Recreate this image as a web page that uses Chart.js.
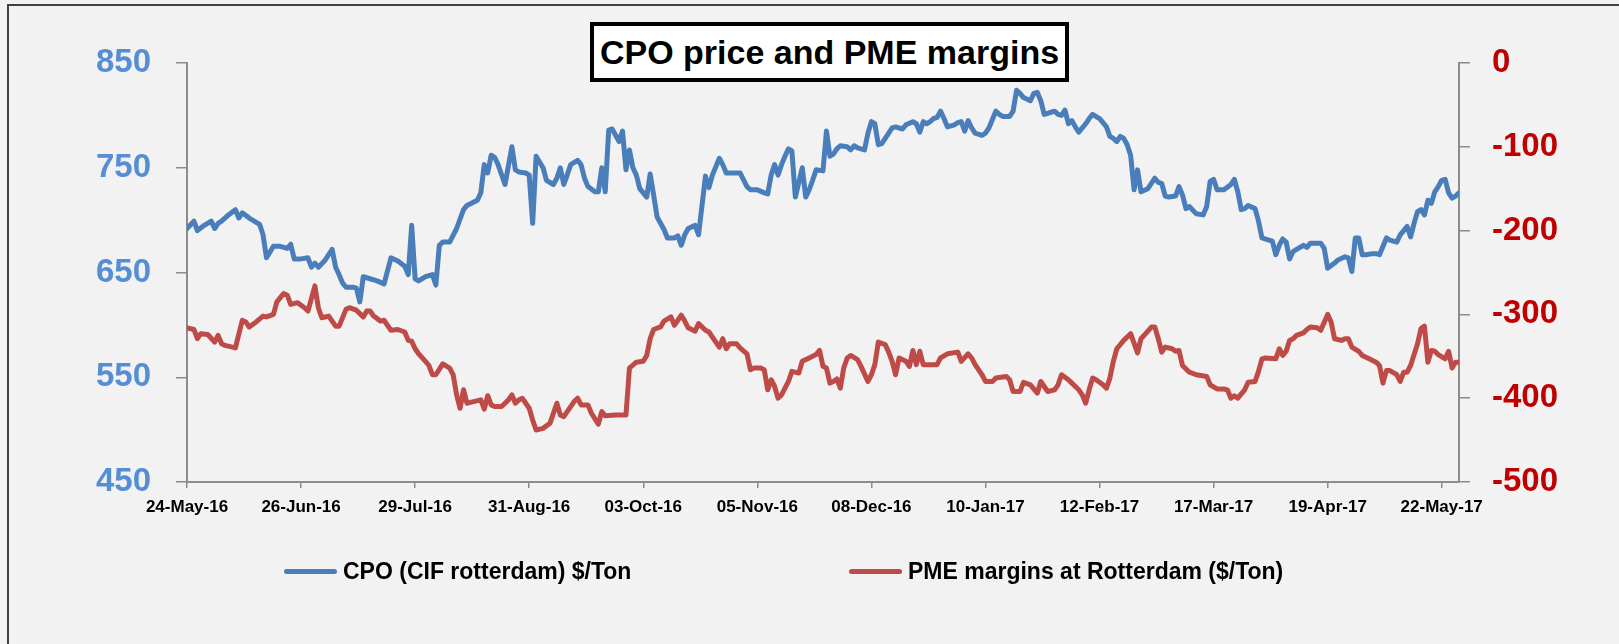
<!DOCTYPE html>
<html>
<head>
<meta charset="utf-8">
<title>CPO price and PME margins</title>
<script src="https://cdn.jsdelivr.net/npm/chart.js@4.4.1/dist/chart.umd.min.js"></script>
<style>
  html, body { margin: 0; padding: 0; background: #f2f2f2; overflow: hidden; }
  #wrap { position: relative; width: 1619px; height: 644px; font-family: 'Liberation Sans', Arial, sans-serif; }
  #frame { position: absolute; left: 7px; top: 4px; width: 1700px; height: 700px;
           border-left: 2px solid #404040; border-top: 2px solid #404040; }
  #chart { position: absolute; left: 0; top: 0; }
  #title { position: absolute; left: 590px; top: 22px; width: 479px; height: 60px; box-sizing: border-box;
           border: 4px solid #000; background: #fff; display: flex; align-items: center; justify-content: center;
           font-weight: bold; font-size: 34px; color: #000; white-space: nowrap; }
  .legend-item { position: absolute; top: 557px; height: 28px; line-height: 28px; display: flex; align-items: center;
                 font-weight: bold; font-size: 23px; color: #000; white-space: nowrap; }
  .legend-item .swatch { width: 53px; height: 5px; border-radius: 3px; margin-right: 6px; }
</style>
</head>
<body>
<div id="wrap">
  <div id="frame"></div>
  <canvas id="chart" width="1619" height="644"></canvas>
  <div id="title">CPO price and PME margins</div>
  <div class="legend-item" style="left:284px"><span class="swatch" style="background:#4a7ebb"></span>CPO (CIF rotterdam) $/Ton</div>
  <div class="legend-item" style="left:849px"><span class="swatch" style="background:#be4b48"></span>PME margins at Rotterdam ($/Ton)</div>
</div>
<script>
// x values are days since 24-May-16
const xTickDay = [0, 33, 66, 99, 132, 165, 198, 231, 264, 297, 330, 363];
const xTickLabel = ['24-May-16', '26-Jun-16', '29-Jul-16', '31-Aug-16', '03-Oct-16', '05-Nov-16',
  '08-Dec-16', '10-Jan-17', '12-Feb-17', '17-Mar-17', '19-Apr-17', '22-May-17'];

// CPO (CIF rotterdam) $/Ton
const cpoDay = [
  0, 2, 3, 5, 7, 8, 9, 10, 12, 14,
  15, 16, 18, 21, 22, 23, 25, 27, 29, 30,
  31, 33, 35, 36, 37, 38, 40, 42, 43, 44,
  45, 46, 48, 49, 50, 51, 52, 55, 57, 59,
  61, 63, 64, 65, 66, 67, 69, 71, 72, 73,
  74, 76, 78, 80, 81, 84, 85, 86, 87, 88,
  89, 90, 92, 94, 95, 96, 98, 99, 100, 101,
  103, 104, 106, 107, 108, 109, 110, 111, 113, 114,
  115, 116, 118, 119, 120, 121, 122, 123, 124, 125,
  126, 127, 128, 129, 130, 131, 133, 134, 135, 136,
  138, 139, 141, 142, 143, 144, 145, 147, 148, 150,
  151, 152, 154, 155, 156, 158, 160, 162, 163, 165,
  167, 168, 169, 170, 171, 172, 173, 174, 175, 176,
  178, 179, 180, 181, 182, 184, 185, 186, 187, 188,
  189, 191, 192, 193, 194, 196, 197, 198, 199, 200,
  201, 202, 204, 205, 207, 208, 210, 211, 212, 213,
  214, 215, 216, 217, 218, 219, 220, 222, 223, 224,
  225, 226, 227, 228, 230, 231, 232, 234, 235, 236,
  238, 239, 240, 241, 242, 244, 245, 246, 247, 248,
  250, 251, 252, 253, 254, 255, 256, 257, 258, 260,
  261, 262, 264, 265, 266, 267, 268, 269, 270, 271,
  272, 273, 274, 275, 276, 278, 279, 280, 281, 282,
  283, 284, 286, 287, 288, 289, 290, 292, 294, 295,
  296, 297, 298, 300, 302, 303, 304, 305, 306, 307,
  309, 310, 311, 313, 314, 315, 316, 317, 318, 319,
  320, 321, 323, 324, 325, 328, 329, 330, 332, 333,
  335, 336, 337, 338, 339, 340, 341, 343, 344, 345,
  347, 348, 350, 351, 352, 353, 354, 355, 356, 357,
  358, 359, 360, 361, 362, 363, 364, 365, 366, 367,
  368
];
const cpoPrice = [
  692, 699, 690, 695, 699, 692, 697, 699, 705, 710,
  702, 707, 702, 696, 686, 664, 675, 675, 673, 677,
  663, 663, 664, 655, 659, 655, 662, 672, 655, 648,
  640, 636, 636, 635, 622, 646, 645, 642, 639, 664,
  661, 656, 648, 695, 644, 642, 646, 648, 638, 676,
  679, 679, 692, 710, 714, 719, 726, 753, 745, 762,
  760, 753, 734, 770, 748, 746, 745, 743, 697, 761,
  750, 738, 734, 740, 750, 734, 743, 753, 757, 753,
  740, 732, 727, 727, 750, 727, 786, 787, 781, 775,
  785, 748, 767, 750, 743, 730, 722, 744, 724, 703,
  691, 683, 683, 685, 676, 686, 692, 695, 686, 742,
  731, 743, 759, 753, 745, 745, 745, 732, 729, 729,
  726, 725, 743, 753, 743, 753, 761, 768, 766, 722,
  750, 722, 729, 738, 748, 747, 785, 761, 763, 768,
  771, 770, 767, 771, 769, 767, 783, 794, 792, 772,
  773, 778, 788, 789, 787, 791, 794, 792, 784, 794,
  792, 794, 797, 798, 804, 797, 789, 791, 793, 794,
  785, 795, 788, 783, 781, 783, 788, 804, 801, 799,
  799, 804, 824, 821, 817, 814, 821, 822, 814, 801,
  803, 804, 801, 800, 805, 792, 795, 789, 784, 792,
  797, 801, 797, 793, 789, 780, 778, 775, 780, 778,
  772, 762, 729, 748, 727, 730, 735, 740, 736, 735,
  723, 722, 723, 732, 724, 711, 713, 706, 705, 713,
  737, 739, 729, 729, 734, 739, 727, 710, 711, 714,
  711, 699, 683, 681, 680, 667, 676, 682, 679, 663,
  670, 672, 676, 674, 678, 678, 673, 654, 659, 662,
  665, 664, 651, 683, 683, 667, 667, 668, 668, 667,
  683, 681, 679, 686, 690, 694, 684, 697, 708, 710,
  705, 719, 716, 727, 732, 738, 739, 726, 721, 723,
  726
];

// PME margins at Rotterdam ($/Ton)
const pmeDay = [
  0, 2, 3, 4, 6, 8, 9, 10, 11, 14,
  16, 17, 18, 20, 22, 23, 25, 26, 28, 29,
  30, 32, 34, 35, 37, 38, 39, 41, 43, 44,
  46, 47, 49, 51, 52, 53, 54, 56, 57, 59,
  61, 63, 64, 65, 66, 67, 69, 70, 71, 72,
  74, 76, 77, 78, 79, 80, 81, 82, 85, 86,
  87, 88, 89, 91, 92, 93, 94, 95, 96, 97,
  99, 100, 101, 103, 105, 107, 108, 109, 110, 112,
  113, 114, 116, 117, 119, 120, 121, 124, 127, 128,
  130, 132, 133, 134, 135, 137, 138, 140, 141, 143,
  144, 145, 147, 148, 150, 151, 153, 154, 155, 156,
  157, 159, 160, 162, 163, 164, 166, 167, 168, 169,
  170, 171, 172, 174, 175, 177, 178, 180, 182, 183,
  184, 185, 186, 187, 188, 189, 190, 191, 192, 194,
  195, 197, 198, 199, 200, 202, 203, 204, 205, 206,
  208, 209, 210, 211, 212, 213, 214, 217, 218, 220,
  223, 224, 226, 227, 228, 230, 231, 233, 234, 237,
  238, 239, 241, 242, 244, 246, 247, 249, 251, 252,
  253, 255, 256, 258, 259, 260, 261, 262, 263, 265,
  266, 267, 268, 269, 271, 273, 275, 276, 278, 279,
  280, 281, 282, 283, 285, 286, 287, 288, 290, 292,
  295, 296, 298, 300, 301, 302, 303, 304, 306, 307,
  309, 310, 311, 312, 315, 316, 317, 318, 319, 320,
  321, 323, 324, 325, 327, 328, 330, 331, 332, 334,
  335, 336, 337, 339, 340, 342, 344, 345, 346, 347,
  348, 350, 351, 352, 353, 354, 356, 357, 358, 359,
  360, 361, 362, 364, 365, 366, 367, 368
];
const pmeMargin = [
  -316, -318, -329, -323, -324, -333, -325, -335, -337, -340,
  -307, -309, -315, -309, -302, -303, -300, -285, -275, -277,
  -288, -286, -292, -296, -266, -292, -304, -302, -314, -314,
  -294, -292, -295, -303, -296, -296, -302, -308, -307, -319,
  -318, -321, -331, -332, -341, -347, -356, -361, -372, -372,
  -359, -364, -372, -396, -412, -390, -406, -405, -402, -413,
  -397, -408, -410, -410, -406, -402, -396, -406, -402, -400,
  -412, -426, -438, -436, -430, -406, -420, -422, -416, -404,
  -400, -408, -408, -418, -431, -416, -421, -420, -420, -364,
  -357, -356, -349, -329, -318, -315, -308, -303, -313, -301,
  -308, -316, -320, -311, -319, -321, -333, -339, -329, -341,
  -335, -335, -340, -347, -366, -364, -364, -366, -390, -378,
  -386, -400, -396, -380, -368, -370, -356, -352, -348, -343,
  -362, -364, -382, -380, -377, -388, -364, -352, -349, -354,
  -362, -380, -372, -360, -333, -336, -345, -356, -372, -352,
  -356, -362, -343, -360, -344, -360, -360, -360, -352, -347,
  -345, -356, -347, -352, -360, -372, -380, -380, -376, -374,
  -378, -392, -392, -381, -384, -394, -380, -392, -390, -384,
  -372, -378, -382, -390, -396, -406, -390, -376, -378, -384,
  -388, -376, -356, -341, -331, -323, -346, -329, -320, -315,
  -315, -329, -345, -339, -341, -344, -343, -361, -369, -372,
  -374, -384, -389, -389, -390, -400, -397, -400, -390, -381,
  -380, -368, -353, -352, -353, -341, -349, -344, -331, -329,
  -325, -322, -318, -315, -316, -319, -300, -309, -329, -331,
  -329, -329, -339, -344, -349, -353, -357, -361, -382, -367,
  -367, -372, -380, -369, -369, -361, -335, -317, -314, -357,
  -343, -344, -348, -353, -344, -364, -357, -357
];

const cpoColor = '#4a7ebb';
const pmeColor = '#be4b48';
const axisGray = '#8c8c8c';

Chart.defaults.font.family = "'Liberation Sans', Arial, sans-serif";

const toPoints = (days, vals) => days.map((d, i) => ({ x: d, y: vals[i] }));

const axisGrid = (len) => ({ drawOnChartArea: false, drawTicks: true, tickLength: len, color: axisGray, lineWidth: 1.5 });
const axisBorder = { display: true, color: axisGray, width: 2 };

new Chart(document.getElementById('chart'), {
  type: 'line',
  data: {
    datasets: [
      {
        label: 'CPO (CIF rotterdam) $/Ton',
        data: toPoints(cpoDay, cpoPrice),
        yAxisID: 'y',
        borderColor: cpoColor,
        borderWidth: 5,
        borderJoinStyle: 'round',
        borderCapStyle: 'round',
        pointRadius: 0,
        tension: 0
      },
      {
        label: 'PME margins at Rotterdam ($/Ton)',
        data: toPoints(pmeDay, pmeMargin),
        yAxisID: 'y1',
        borderColor: pmeColor,
        borderWidth: 5,
        borderJoinStyle: 'round',
        borderCapStyle: 'round',
        pointRadius: 0,
        tension: 0
      }
    ]
  },
  options: {
    responsive: false,
    animation: false,
    devicePixelRatio: 1,
    events: [],
    layout: { padding: { top: 63, left: 0, right: 0, bottom: 0 } },
    plugins: {
      legend: { display: false },
      tooltip: { enabled: false }
    },
    scales: {
      x: {
        type: 'linear',
        min: 0,
        max: 368,
        afterBuildTicks: (axis) => { axis.ticks = xTickDay.map(v => ({ value: v })); },
        afterFit: (axis) => { axis.height = 162; },
        grid: axisGrid(6),
        border: axisBorder,
        ticks: {
          autoSkip: false,
          maxRotation: 0,
          padding: 9,
          color: '#000',
          font: { size: 17, weight: 'bold' },
          callback: (v) => xTickLabel[xTickDay.indexOf(v)]
        }
      },
      y: {
        position: 'left',
        min: 450,
        max: 850,
        afterFit: (axis) => { axis.width = 187; },
        grid: axisGrid(11),
        border: axisBorder,
        ticks: { stepSize: 100, padding: 25, color: '#558ed5', font: { size: 33, weight: 'bold' } }
      },
      y1: {
        position: 'right',
        min: -500,
        max: 0,
        afterFit: (axis) => { axis.width = 160; },
        grid: axisGrid(11),
        border: axisBorder,
        ticks: { stepSize: 100, padding: 22, color: '#c00000', font: { size: 33, weight: 'bold' } }
      }
    }
  }
});
</script>
</body>
</html>
